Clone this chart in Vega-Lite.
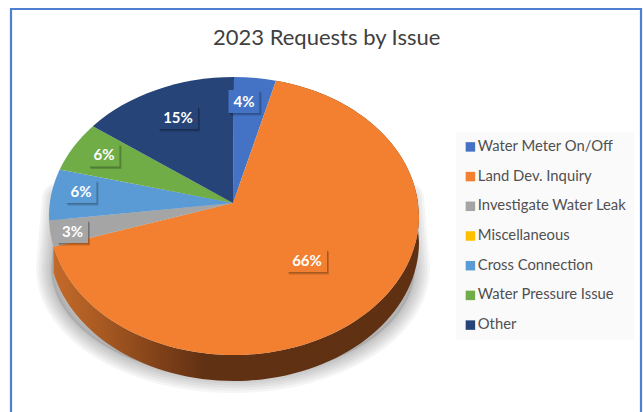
{
"$schema":"https://vega.github.io/schema/vega-lite/v6.json",
"width":643,"height":412,"padding":0,"autosize":{"type":"none"},
"background":"white",
"view":{"stroke":null},
"title":{"text":"2023 Requests by Issue","font":"Lato","fontSize":22,"fontWeight":"normal","color":"#404040","anchor":"start","frame":"group","dx":213,"offset":-72,"baseline":"bottom"},
"data":{"values":[
{"issue":"Water Meter On/Off","pct":4},
{"issue":"Land Dev. Inquiry","pct":66},
{"issue":"Investigate Water Leak","pct":3},
{"issue":"Miscellaneous","pct":0},
{"issue":"Cross Connection","pct":6},
{"issue":"Water Pressure Issue","pct":6},
{"issue":"Other","pct":15}
]},
"transform":[
{"stack":"pct","groupby":[],"as":["p0","p1"]},
{"calculate":"2*atan2(0.91*sin(datum.p0/100*PI),cos(datum.p0/100*PI))","as":"a0"},
{"calculate":"2*atan2(0.91*sin(datum.p1/100*PI),cos(datum.p1/100*PI))","as":"a1"},
{"calculate":"round(100*(1+185*sin(datum.a0)))/100","as":"x0"},
{"calculate":"round(100*(13-139*cos(datum.a0)))/100","as":"y0"},
{"calculate":"round(100*(1+185*sin(datum.a1)))/100","as":"x1"},
{"calculate":"round(100*(13-139*cos(datum.a1)))/100","as":"y1"},
{"calculate":"datum.a1-datum.a0>PI?1:0","as":"large"},
{"calculate":"'M0,0L'+datum.x0+','+datum.y0+'A185,139 0 '+datum.large+' 1 '+datum.x1+','+datum.y1+'Z'","as":"wedge"},
{"calculate":"'M'+datum.x0+','+datum.y0+'A185,139 0 '+datum.large+' 1 '+datum.x1+','+datum.y1+'L'+datum.x1+','+(datum.y1+26)+'A185,139 0 '+datum.large+' 0 '+datum.x0+','+(datum.y0+26)+'Z'","as":"rim"},
{"calculate":"(datum.p0+datum.p1)*1.8","as":"mid"},
{"calculate":"datum.pct+'%'","as":"label"},
{"calculate":"datum.pct>=10?'M-20,-11.5H20V11.5H-20Z':'M-15.5,-11.5H15.5V11.5H-15.5Z'","as":"box"}
],
"resolve":{"scale":{"x":"independent","y":"independent"}},
"layer":[
{"transform":[{"filter":"datum.pct==66"}],
 "mark":{"type":"rect","fill":"white","stroke":"#4f7fd0","strokeWidth":2.2},
 "encoding":{"x":{"datum":11,"type":"quantitative","scale":{"domain":[0,643],"nice":false},"axis":null},"x2":{"datum":641},"y":{"datum":9,"type":"quantitative","scale":{"domain":[412,0],"nice":false},"axis":null},"y2":{"datum":430}}},
{"transform":[{"filter":"datum.pct==66"}],
 "mark":{"type":"point","shape":"M-182,0A182,110 0 0 0 182,0L176,-70L-176,-70Z","size":4,"filled":true,"fill":"#000000","fillOpacity":0.12,"stroke":"#000000","strokeOpacity":0.04,"strokeWidth":30,"strokeJoin":"round","opacity":1},
 "encoding":{"x":{"datum":233,"type":"quantitative","scale":{"domain":[0,643],"nice":false},"axis":null},"y":{"datum":268,"type":"quantitative","scale":{"domain":[412,0],"nice":false},"axis":null}}},
{"transform":[{"filter":"datum.pct==66"}],
 "mark":{"type":"point","shape":"M-182,0A182,110 0 0 0 182,0L176,-70L-176,-70Z","size":4,"filled":true,"fill":"#000000","fillOpacity":0,"stroke":"#000000","strokeOpacity":0.04,"strokeWidth":25,"strokeJoin":"round","opacity":1},
 "encoding":{"x":{"datum":233,"type":"quantitative","scale":{"domain":[0,643],"nice":false},"axis":null},"y":{"datum":268,"type":"quantitative","scale":{"domain":[412,0],"nice":false},"axis":null}}},
{"transform":[{"filter":"datum.pct==66"}],
 "mark":{"type":"point","shape":"M-182,0A182,110 0 0 0 182,0L176,-70L-176,-70Z","size":4,"filled":true,"fill":"#000000","fillOpacity":0,"stroke":"#000000","strokeOpacity":0.04,"strokeWidth":20,"strokeJoin":"round","opacity":1},
 "encoding":{"x":{"datum":233,"type":"quantitative","scale":{"domain":[0,643],"nice":false},"axis":null},"y":{"datum":268,"type":"quantitative","scale":{"domain":[412,0],"nice":false},"axis":null}}},
{"transform":[{"filter":"datum.pct==66"}],
 "mark":{"type":"point","shape":"M-182,0A182,110 0 0 0 182,0L176,-70L-176,-70Z","size":4,"filled":true,"fill":"#000000","fillOpacity":0,"stroke":"#000000","strokeOpacity":0.04,"strokeWidth":15,"strokeJoin":"round","opacity":1},
 "encoding":{"x":{"datum":233,"type":"quantitative","scale":{"domain":[0,643],"nice":false},"axis":null},"y":{"datum":268,"type":"quantitative","scale":{"domain":[412,0],"nice":false},"axis":null}}},
{"transform":[{"filter":"datum.pct==66"}],
 "mark":{"type":"point","shape":"M-182,0A182,110 0 0 0 182,0L176,-70L-176,-70Z","size":4,"filled":true,"fill":"#000000","fillOpacity":0,"stroke":"#000000","strokeOpacity":0.04,"strokeWidth":10,"strokeJoin":"round","opacity":1},
 "encoding":{"x":{"datum":233,"type":"quantitative","scale":{"domain":[0,643],"nice":false},"axis":null},"y":{"datum":268,"type":"quantitative","scale":{"domain":[412,0],"nice":false},"axis":null}}},
{"transform":[{"filter":"datum.pct==66"}],
 "mark":{"type":"point","shape":"M-182,0A182,110 0 0 0 182,0L176,-70L-176,-70Z","size":4,"filled":true,"fill":"#000000","fillOpacity":0,"stroke":"#000000","strokeOpacity":0.04,"strokeWidth":5,"strokeJoin":"round","opacity":1},
 "encoding":{"x":{"datum":233,"type":"quantitative","scale":{"domain":[0,643],"nice":false},"axis":null},"y":{"datum":268,"type":"quantitative","scale":{"domain":[412,0],"nice":false},"axis":null}}},
{"transform":[{"filter":"datum.pct==66"}],
 "mark":{"type":"point","size":4,"filled":true,"opacity":1,"fill":{"gradient":"linear","x1":0,"y1":0,"x2":1,"y2":0,"stops":[{"offset":0,"color":"#c46a2a"},{"offset":0.13,"color":"#a85a22"},{"offset":0.3,"color":"#7d3f18"},{"offset":0.41,"color":"#613113"},{"offset":1,"color":"#5f3012"}]}},
 "encoding":{"x":{"datum":233,"type":"quantitative","scale":{"domain":[0,643],"nice":false},"axis":null},"y":{"datum":203,"type":"quantitative","scale":{"domain":[412,0],"nice":false},"axis":null},"shape":{"field":"rim","type":"nominal","scale":null,"legend":null}}},
{"transform":[{"filter":"datum.pct>0"}],
 "mark":{"type":"point","size":4,"filled":true,"opacity":1},
 "encoding":{"x":{"datum":233,"type":"quantitative","scale":{"domain":[0,643],"nice":false},"axis":null},"y":{"datum":203,"type":"quantitative","scale":{"domain":[412,0],"nice":false},"axis":null},"shape":{"field":"wedge","type":"nominal","scale":null,"legend":null},
 "color":{"field":"issue","type":"nominal","sort":null,"scale":{"domain":["Water Meter On/Off","Land Dev. Inquiry","Investigate Water Leak","Miscellaneous","Cross Connection","Water Pressure Issue","Other"],"range":["#4472c4","#f28030","#a5a5a5","#ffc000","#5b9bd5","#70ad47","#264478"]},
 "legend":{"title":null,"orient":"none","legendX":456,"legendY":132.5,"fillColor":"#fafafa","padding":7,"symbolType":"square","symbolSize":90,"symbolStrokeWidth":0,"labelFont":"Lato","labelFontSize":14.8,"labelColor":"#505050","labelOffset":0,"rowPadding":13.7,"labelLimit":200}}}},
{"transform":[{"filter":"datum.pct>0"}],
 "mark":{"type":"point","size":4,"filled":true,"opacity":1,"fill":"#000000","fillOpacity":0.18,"xOffset":2,"yOffset":2.5},
 "encoding":{"x":{"field":"mid","type":"quantitative","scale":{"domain":[7.2,133.2,257.4,273.6,295.2,333],"range":[244,307,72.5,81,104,178],"zero":false,"nice":false},"axis":null},"y":{"field":"mid","type":"quantitative","scale":{"domain":[7.2,133.2,257.4,273.6,295.2,333],"range":[101.5,260.5,231.5,191.5,155,117.5],"zero":false,"nice":false},"axis":null},"shape":{"field":"box","type":"nominal","scale":null,"legend":null}}},
{"transform":[{"filter":"datum.pct>0"}],
 "mark":{"type":"point","size":4,"filled":true,"opacity":1,"fill":"#000000","fillOpacity":0.15,"xOffset":1,"yOffset":1.2},
 "encoding":{"x":{"field":"mid","type":"quantitative","scale":{"domain":[7.2,133.2,257.4,273.6,295.2,333],"range":[244,307,72.5,81,104,178],"zero":false,"nice":false},"axis":null},"y":{"field":"mid","type":"quantitative","scale":{"domain":[7.2,133.2,257.4,273.6,295.2,333],"range":[101.5,260.5,231.5,191.5,155,117.5],"zero":false,"nice":false},"axis":null},"shape":{"field":"box","type":"nominal","scale":null,"legend":null}}},
{"transform":[{"filter":"datum.pct>0"}],
 "mark":{"type":"point","size":4,"filled":true,"opacity":1},
 "encoding":{"x":{"field":"mid","type":"quantitative","scale":{"domain":[7.2,133.2,257.4,273.6,295.2,333],"range":[244,307,72.5,81,104,178],"zero":false,"nice":false},"axis":null},"y":{"field":"mid","type":"quantitative","scale":{"domain":[7.2,133.2,257.4,273.6,295.2,333],"range":[101.5,260.5,231.5,191.5,155,117.5],"zero":false,"nice":false},"axis":null},"shape":{"field":"box","type":"nominal","scale":null,"legend":null},"color":{"field":"issue","type":"nominal","sort":null}}},
{"transform":[{"filter":"datum.pct>0"}],
 "mark":{"type":"text","font":"Lato","fontSize":15,"fontWeight":"bold","color":"white","align":"center","baseline":"middle"},
 "encoding":{"x":{"field":"mid","type":"quantitative","scale":{"domain":[7.2,133.2,257.4,273.6,295.2,333],"range":[244,307,72.5,81,104,178],"zero":false,"nice":false},"axis":null},"y":{"field":"mid","type":"quantitative","scale":{"domain":[7.2,133.2,257.4,273.6,295.2,333],"range":[101.5,260.5,231.5,191.5,155,117.5],"zero":false,"nice":false},"axis":null},"text":{"field":"label","type":"nominal"}}}
]
}
